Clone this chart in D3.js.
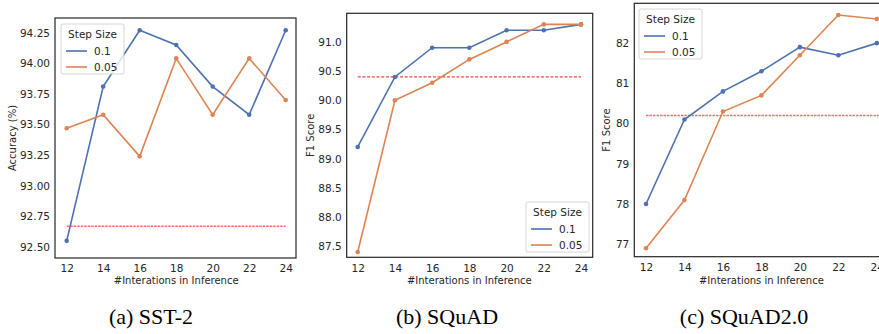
<!DOCTYPE html>
<html>
<head>
<meta charset="utf-8">
<script src="https://cdn.jsdelivr.net/npm/d3@7"></script>
<style>
  body { margin: 0; background: #fff; }
  svg text { font-family: "DejaVu Sans", sans-serif; fill: #262626; }
  svg text.caption { font-family: "Liberation Serif", "Times New Roman", serif; fill: #000; }
</style>
</head>
<body>
<svg id="chart" width="879" height="334"></svg>
<script>
// x values
const iterations = [12, 14, 16, 18, 20, 22, 24];

// SST-2 accuracy
const sstStep01 = [92.55, 93.81, 94.27, 94.15, 93.81, 93.58, 94.27];
const sstStep005 = [93.47, 93.58, 93.24, 94.04, 93.58, 94.04, 93.70];
const sstBaseline = 92.67;
const sstTicks = [92.50, 92.75, 93.00, 93.25, 93.50, 93.75, 94.00, 94.25];

// SQuAD F1
const squadStep01 = [89.2, 90.4, 90.9, 90.9, 91.2, 91.2, 91.3];
const squadStep005 = [87.4, 90.0, 90.3, 90.7, 91.0, 91.3, 91.3];
const squadBaseline = 90.4;
const squadTicks = [87.5, 88.0, 88.5, 89.0, 89.5, 90.0, 90.5, 91.0];

// SQuAD2.0 F1
const squad2Step01 = [78.0, 80.1, 80.8, 81.3, 81.9, 81.7, 82.0];
const squad2Step005 = [76.9, 78.1, 80.3, 80.7, 81.7, 82.7, 82.6];
const squad2Baseline = 80.2;
const squad2Ticks = [77, 78, 79, 80, 81, 82];

const blue = "#4c72b0", orange = "#dd8452";
const svg = d3.select("#chart");

function panel(opt) {
  const g = svg.append("g");
  const x = d3.scaleLinear().domain([12, 24]).range([opt.x12, opt.x24]);
  const y = d3.scaleLinear().domain(opt.yDomain).range([opt.bottom, opt.top]);

  // y axis labels (no tick marks, seaborn white style)
  const yAxis = d3.axisLeft(y).tickValues(opt.yTicks).tickFormat(d3.format(opt.fmt)).tickSize(0).tickPadding(5);
  g.append("g").attr("transform", `translate(${opt.left},0)`).call(yAxis)
    .call(a => a.select(".domain").remove())
    .selectAll("text").style("font-size", "10.5px").attr("fill", "#262626");

  const xAxis = d3.axisBottom(x).tickValues(iterations).tickSize(0).tickPadding(7);
  g.append("g").attr("transform", `translate(0,${opt.bottom})`).call(xAxis)
    .call(a => a.select(".domain").remove())
    .selectAll("text").style("font-size", "10.5px").attr("fill", "#262626");

  // baseline
  g.append("line")
    .attr("x1", x(12)).attr("x2", opt.baseEnd || x(24))
    .attr("y1", y(opt.baseline)).attr("y2", y(opt.baseline))
    .attr("stroke", opt.baseColor).attr("stroke-width", opt.baseWidth)
    .attr("stroke-dasharray", opt.baseDash);

  const line = d3.line().x((d, i) => x(iterations[i])).y(d => y(d));
  [[opt.s01, blue], [opt.s005, orange]].forEach(([vals, c]) => {
    g.append("path").datum(vals).attr("d", line)
      .attr("fill", "none").attr("stroke", c).attr("stroke-width", 1.6);
    g.selectAll(null).data(vals).enter().append("circle")
      .attr("cx", (d, i) => x(iterations[i])).attr("cy", d => y(d))
      .attr("r", 2.3).attr("fill", c);
  });

  // frame
  g.append("rect").attr("x", opt.left).attr("y", opt.top)
    .attr("width", opt.right - opt.left).attr("height", opt.bottom - opt.top)
    .attr("fill", "none").attr("stroke", "#262626").attr("stroke-width", 1.2);

  // axis titles
  g.append("text").attr("transform", `translate(${opt.ylabX},${(opt.top + opt.bottom) / 2}) rotate(-90)`)
    .attr("text-anchor", "middle").style("font-size", "10px").text(opt.ylabel);
  g.append("text").attr("x", (opt.x12 + opt.x24) / 2).attr("y", 284)
    .attr("text-anchor", "middle").style("font-size", "10px").text("#Interations in Inference");

  // legend
  const L = g.append("g").attr("transform", `translate(${opt.legX},${opt.legY})`);
  L.append("rect").attr("width", 63).attr("height", 50).attr("rx", 2)
    .attr("fill", "#fff").attr("fill-opacity", 0.8).attr("stroke", "#cccccc").attr("stroke-width", 0.8);
  L.append("text").attr("x", 31.5).attr("y", 14).attr("text-anchor", "middle").style("font-size", "10.5px").text("Step Size");
  [["0.1", blue], ["0.05", orange]].forEach(([t, c], i) => {
    const yy = 27 + i * 16;
    L.append("line").attr("x1", 5).attr("x2", 26).attr("y1", yy).attr("y2", yy).attr("stroke", c).attr("stroke-width", 1.6);
    L.append("text").attr("x", 33).attr("y", yy + 4).style("font-size", "10.5px").text(t);
  });

  svg.append("text").attr("class", "caption").attr("x", opt.capX).attr("y", 324)
    .attr("text-anchor", "middle").style("font-size", "22px").text(opt.caption);
}

panel({
  left: 55, right: 296, top: 18, bottom: 258, x12: 66.7, x24: 285.7,
  yDomain: [92.41, 94.37], yTicks: sstTicks, fmt: ".2f", ylabel: "Accuracy (%)", ylabX: 16,
  s01: sstStep01, s005: sstStep005, baseline: sstBaseline,
  baseColor: "#ff6b6b", baseWidth: 1.5, baseDash: "2.5,1",
  legX: 61, legY: 24, caption: "(a) SST-2", capX: 151
});
panel({
  left: 346.7, right: 592.7, top: 13.3, bottom: 257.3, x12: 357.7, x24: 581,
  yDomain: [87.31, 91.49], yTicks: squadTicks, fmt: ".1f", ylabel: "F1 Score", ylabX: 314,
  s01: squadStep01, s005: squadStep005, baseline: squadBaseline,
  baseColor: "#e8141c", baseWidth: 1, baseDash: "3,1.7",
  legX: 526, legY: 202, caption: "(b) SQuAD", capX: 447
});
panel({
  left: 634.3, right: 889, top: 3.3, bottom: 256.7, x12: 646, x24: 876.8, baseEnd: 880,
  yDomain: [76.69, 82.99], yTicks: squad2Ticks, fmt: "d", ylabel: "F1 Score", ylabX: 610,
  s01: squad2Step01, s005: squad2Step005, baseline: squad2Baseline,
  baseColor: "#ff6b6b", baseWidth: 1.5, baseDash: "2.5,1",
  legX: 639, legY: 9, caption: "(c) SQuAD2.0", capX: 744
});
</script>
</body>
</html>
